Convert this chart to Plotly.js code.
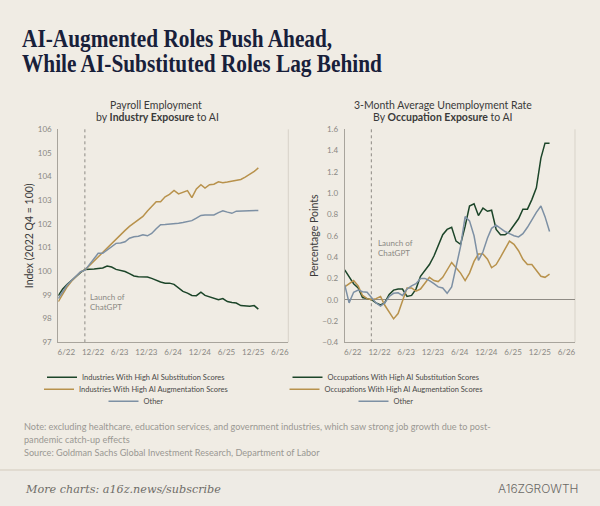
<!DOCTYPE html>
<html>
<head>
<meta charset="utf-8">
<script src="https://cdn.plot.ly/plotly-3.0.1.min.js"></script>
<style>
html,body{margin:0;padding:0;background:#f0ece4;}
#chart{width:600px;height:506px;}
</style>
</head>
<body>
<div id="chart"></div>
<script>
// ---------- DATA ----------
const months = [
  '2022-06-01','2022-07-01','2022-08-01','2022-09-01','2022-10-01','2022-11-01','2022-12-01',
  '2023-01-01','2023-02-01','2023-03-01','2023-04-01','2023-05-01','2023-06-01','2023-07-01',
  '2023-08-01','2023-09-01','2023-10-01','2023-11-01','2023-12-01','2024-01-01','2024-02-01',
  '2024-03-01','2024-04-01','2024-05-01','2024-06-01','2024-07-01','2024-08-01','2024-09-01',
  '2024-10-01','2024-11-01','2024-12-01','2025-01-01','2025-02-01','2025-03-01','2025-04-01',
  '2025-05-01','2025-06-01','2025-07-01','2025-08-01','2025-09-01','2025-10-01','2025-11-01',
  '2025-12-01','2026-01-01','2026-02-01','2026-03-01','2026-04-01'
];
const tickDates = ['2022-06-01','2022-12-01','2023-06-01','2023-12-01','2024-06-01','2024-12-01','2025-06-01','2025-12-01','2026-06-01'];
const tickLabels = ['6/22','12/22','6/23','12/23','6/24','12/24','6/25','12/25','6/26'];
const launchDate = '2022-11-30';

// Payroll employment index (2022 Q4 = 100)
const payrollSubstitution = [98.97,99.25,99.45,99.63,99.78,99.95,100.08,100.08,100.1,100.12,100.14,100.22,100.18,100.08,100.05,99.99,99.9,99.8,99.77,99.77,99.76,99.7,99.62,99.55,99.5,99.5,99.45,99.3,99.15,99.08,98.98,98.97,99.12,98.98,98.93,98.88,98.8,98.85,98.72,98.68,98.66,98.55,98.53,98.52,98.55,98.4];
const payrollAugmentation = [98.72,99.05,99.35,99.59,99.78,99.98,100.06,100.25,100.42,100.62,100.82,101.0,101.2,101.38,101.55,101.73,101.9,102.05,102.18,102.32,102.55,102.75,102.94,102.94,103.15,103.25,103.42,103.27,103.34,103.41,103.11,103.48,103.66,103.52,103.66,103.68,103.78,103.74,103.77,103.8,103.84,103.88,103.98,104.1,104.22,104.37];
const payrollOther = [98.85,99.15,99.42,99.62,99.8,99.98,100.05,100.3,100.55,100.76,100.76,100.9,101.05,101.18,101.2,101.25,101.4,101.46,101.48,101.54,101.5,101.6,101.8,101.97,101.98,101.99,102.01,102.03,102.06,102.1,102.14,102.25,102.36,102.38,102.38,102.38,102.48,102.56,102.5,102.45,102.54,102.55,102.55,102.54,102.55,102.57];

// 3-month average unemployment rate change (percentage points)
const unempSubstitution = [0.28,0.22,0.15,0.11,0.02,0.01,0.0,-0.03,-0.05,-0.03,0.05,0.09,0.1,0.1,0.03,0.04,0.1,0.22,0.28,0.33,0.41,0.5,0.61,0.66,0.68,0.55,0.52,0.69,0.88,0.9,0.79,0.86,0.83,0.84,0.66,0.61,0.61,0.64,0.7,0.76,0.85,0.85,0.94,1.05,1.33,1.47,1.47];
const unempAugmentation = [0.12,0.15,0.18,0.13,0.04,0.01,0.0,0.01,0.03,-0.05,-0.11,-0.18,-0.13,-0.02,0.11,0.11,0.08,0.1,0.16,0.21,0.18,0.17,0.21,0.28,0.35,0.3,0.25,0.18,0.25,0.36,0.43,0.43,0.38,0.3,0.33,0.4,0.48,0.55,0.52,0.46,0.38,0.33,0.33,0.27,0.22,0.21,0.24];
const unempOther = [0.14,-0.03,0.07,0.09,0.075,0.07,0.02,-0.03,-0.06,-0.03,0.03,0.06,0.065,0.04,0.1,0.13,0.15,0.2,0.2,0.18,0.15,0.12,0.11,0.06,0.12,0.3,0.5,0.78,0.74,0.6,0.37,0.45,0.58,0.67,0.7,0.67,0.64,0.62,0.6,0.59,0.62,0.68,0.75,0.82,0.88,0.78,0.64];

const leftNames = ['Industries With High AI Substitution Scores','Industries With High AI Augmentation Scores','Other'];
const rightNames = ['Occupations With High AI Substitution Scores','Occupations With High AI Augmentation Scores','Other'];

// ---------- STYLE ----------
const BG = '#f0ece4';
const GREEN = '#1c4529', GOLD = '#b8924c', GREY = '#7d90a4';
const SANS = 'Lato, "Open Sans", sans-serif';
const W = 600, H = 506;
const fx = p => p / W;
const fy = p => 1 - p / H;

function line(x, y, name, color, xa, ya, leg) {
  return {type:'scatter', mode:'lines', x:x, y:y, name:name, xaxis:xa, yaxis:ya, legend:leg,
          line:{color:color, width:1.5}, hoverinfo:'skip'};
}
const leftX = months.slice(0, payrollSubstitution.length);
const rightX = months.slice(0, unempSubstitution.length);

const traces = [
  line(leftX, payrollSubstitution, leftNames[0], GREEN, 'x', 'y', 'legend'),
  line(leftX, payrollAugmentation, leftNames[1], GOLD, 'x', 'y', 'legend2'),
  line(leftX, payrollOther, leftNames[2], GREY, 'x', 'y', 'legend3'),
  line(rightX, unempSubstitution, rightNames[0], GREEN, 'x2', 'y2', 'legend4'),
  line(rightX, unempAugmentation, rightNames[1], GOLD, 'x2', 'y2', 'legend5'),
  line(rightX, unempOther, rightNames[2], GREY, 'x2', 'y2', 'legend6')
];

const xCommon = {
  type:'date', range:['2022-06-01','2026-09-22'], tickmode:'array', tickvals:tickDates, ticktext:tickLabels,
  ticks:'', showgrid:false, zeroline:false, showline:true, linecolor:'#a8a49c', linewidth:1,
  tickfont:{family:SANS, size:8, color:'#8a8883'}, ticklabelshift:8, ticklabelstandoff:2, fixedrange:true
};
const yDomain = [fy(342.3), fy(129.3)];
const yCommon = {
  ticks:'', showgrid:false, showline:true, linecolor:'#a8a49c', linewidth:1, domain:yDomain,
  tickfont:{family:SANS, size:8, color:'#8a8883'}, ticklabelstandoff:4, fixedrange:true
};
function legendAt(xp, yp) {
  return {x:fx(xp), y:fy(yp), xanchor:'center', yanchor:'middle', orientation:'v', bgcolor:'rgba(0,0,0,0)',
          font:{family:SANS, size:7.5, color:'#4a4a48'}, itemwidth:30, tracegroupgap:0, itemclick:false, itemdoubleclick:false};
}

const annText = (text, xp, yp, opts) => Object.assign({
  text:text, x:fx(xp), y:fy(yp), xref:'paper', yref:'paper', showarrow:false,
  xanchor:'center', yanchor:'middle', font:{family:SANS, size:10.5, color:'#3a3a3a'}
}, opts || {});

const NOTE_FONT = {family:SANS, size:9.15, color:'#9a9893'};

const layout = {
  width:W, height:H, margin:{l:0, r:0, t:0, b:0},
  paper_bgcolor:BG, plot_bgcolor:BG, showlegend:true,
  font:{family:SANS, color:'#444'},
  title:{
    text:'AI-Augmented Roles Push Ahead,<br>While AI-Substituted Roles Lag Behind',
    x:fx(22), xanchor:'left', xref:'paper', y:fy(47), yanchor:'top', yref:'container',
    font:{family:'"Liberation Serif", serif', size:25, weight:700, color:'#18203a'}
  },
  xaxis:Object.assign({}, xCommon, {domain:[fx(58.3), fx(288.3)], anchor:'y'}),
  yaxis:Object.assign({}, yCommon, {range:[97,106], dtick:1, tick0:97, zeroline:false, anchor:'x',
        title:{text:'Index (2022 Q4 = 100)', font:{family:SANS, size:10.5, color:'#3a3a3a'}, standoff:2}}),
  xaxis2:Object.assign({}, xCommon, {domain:[fx(344.7), fx(575)], anchor:'y2'}),
  yaxis2:Object.assign({}, yCommon, {range:[-0.4,1.6], dtick:0.2, tick0:-0.4, tickformat:'.1f', anchor:'x2',
        zeroline:true, zerolinecolor:'#8f8b84', zerolinewidth:1.2,
        title:{text:'Percentage Points', font:{family:SANS, size:10.5, color:'#3a3a3a'}, standoff:1}}),
  legend:legendAt(136, 377.3), legend2:legendAt(136, 389.3), legend3:legendAt(136, 401.3),
  legend4:legendAt(386, 377.3), legend5:legendAt(386, 389.3), legend6:legendAt(386, 401.3),
  shapes:[
    {type:'line', xref:'x domain', yref:'y domain', x0:1, x1:1, y0:0, y1:1, line:{color:'#d8d3c9', width:1}, layer:'below'},
    {type:'line', xref:'x2 domain', yref:'y2 domain', x0:1, x1:1, y0:0, y1:1, line:{color:'#d8d3c9', width:1}, layer:'below'},
    {type:'line', xref:'x', yref:'y domain', x0:launchDate, x1:launchDate, y0:0, y1:1, line:{color:'#8d8a84', width:1, dash:'dot'}, layer:'below'},
    {type:'line', xref:'x2', yref:'y2 domain', x0:launchDate, x1:launchDate, y0:0, y1:1, line:{color:'#8d8a84', width:1, dash:'dot'}, layer:'below'},
    {type:'rect', xref:'paper', yref:'paper', x0:0, x1:1, y0:0, y1:fy(470), fillcolor:'#eeebe5', line:{width:0}, layer:'below'},
    {type:'line', xref:'paper', yref:'paper', x0:0, x1:1, y0:fy(470), y1:fy(470), line:{color:'#dcd6ca', width:1.5}, layer:'below'}
  ],
  annotations:[
    annText('Payroll Employment', 156.5, 105),
    annText('by <b>Industry Exposure</b> to AI', 157, 116.5),
    annText('3-Month Average Unemployment Rate', 443, 105),
    annText('By <b>Occupation Exposure</b> to AI', 443, 116.5),
    {text:'Launch of<br>ChatGPT', x:launchDate, y:98.7, xref:'x', yref:'y', xanchor:'left', yanchor:'middle', align:'left',
     xshift:3, showarrow:false, font:{family:SANS, size:8, color:'#8a8883'}},
    {text:'Launch of<br>ChatGPT', x:launchDate, y:0.49, xref:'x2', yref:'y2', xanchor:'left', yanchor:'middle', align:'left',
     xshift:5, showarrow:false, font:{family:SANS, size:8, color:'#8a8883'}},
    annText('Note: excluding healthcare, education services, and government industries, which saw strong job growth due to post-', 22, 426.7,
            {xanchor:'left', font:NOTE_FONT}),
    annText('pandemic catch-up effects', 22, 439.3, {xanchor:'left', font:NOTE_FONT}),
    annText('Source: Goldman Sachs Global Investment Research, Department of Labor', 22, 452,
            {xanchor:'left', font:NOTE_FONT}),
    annText('More charts: a16z.news/subscribe', 23, 489,
            {xanchor:'left', font:{family:'"DejaVu Serif", serif', size:11.2, style:'italic', color:'#6f6d68'}}),
    annText('A16ZGROWTH', 580, 488,
            {xanchor:'right', font:{family:'Inter, sans-serif', size:12, weight:300, color:'#6b6965'}})
  ]
};

Plotly.newPlot('chart', traces, layout, {displayModeBar:false, staticPlot:true}).then(function(gd){
  const t = gd.querySelector('.gtitle');
  if (t) {
    t.style.transformOrigin = '22px 0px';
    t.style.transform = 'scaleX(0.853)';
    const lines = t.querySelectorAll('tspan.line');
    if (lines.length > 1) lines[1].setAttribute('dy', '1.0em');
  }
});
</script>
</body>
</html>
